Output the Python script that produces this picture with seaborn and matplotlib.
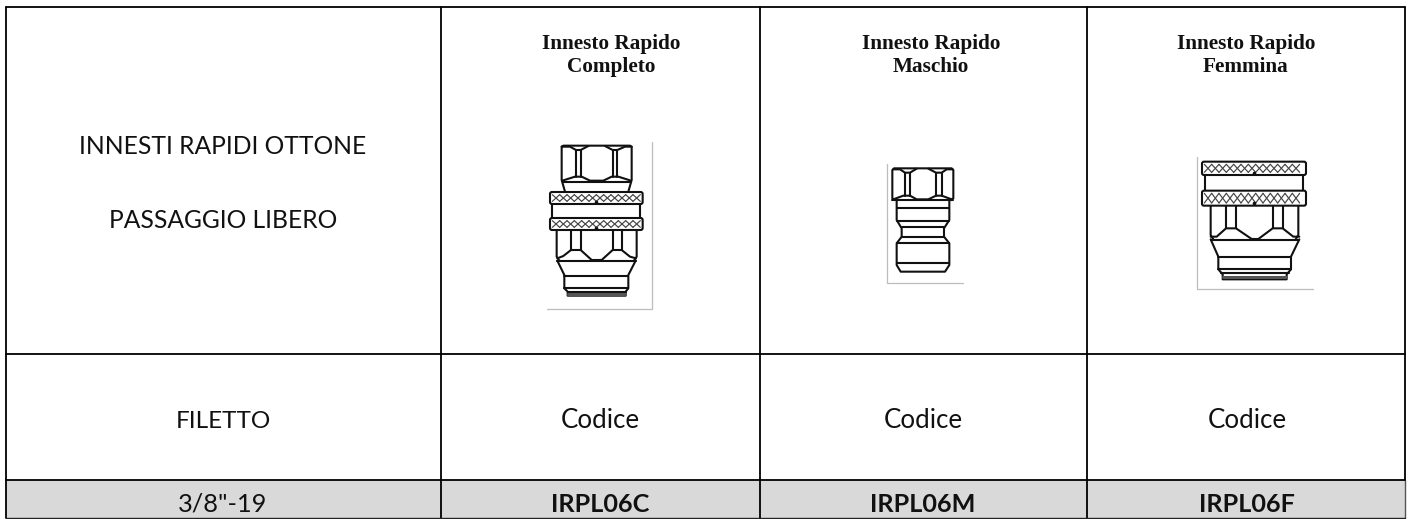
import numpy as np
import pandas as pd
import seaborn as sns
import matplotlib
matplotlib.use("Agg")
import matplotlib.pyplot as plt
from matplotlib.patches import FancyBboxPatch

sns.set_theme(style="white")
plt.rcParams['font.family'] = ['Lato', 'DejaVu Sans']

# table content
left_title = ["INNESTI RAPIDI OTTONE", "PASSAGGIO LIBERO"]
headers = ["Innesto Rapido\nCompleto", "Innesto Rapido\nMaschio", "Innesto Rapido\nFemmina"]
sub_left = "FILETTO"
sub_cols = ["Codice", "Codice", "Codice"]
row_left = '3/8"-19'
row_codes = ["IRPL06C", "IRPL06M", "IRPL06F"]

# table geometry
col_edges = [6, 441, 759.5, 1087, 1404.5]
row_edges = [6.5, 354, 480, 518]

W, H = 1410, 519
fig = plt.figure(figsize=(W / 100, H / 100), dpi=100, facecolor="white")
ax = fig.add_axes([0, 0, 1, 1])
ax.set_xlim(0, W)
ax.set_ylim(H, 0)
ax.axis("off")


def ln(xs, ys, lw=1.5, color="#111111"):
    df = pd.DataFrame({"x": xs, "y": ys})
    sns.lineplot(data=df, x="x", y="y", sort=False, estimator=None, ax=ax,
                 color=color, linewidth=lw, legend=False,
                 solid_joinstyle="round", solid_capstyle="round")


# grey row
ax.fill_between(col_edges[0::4], row_edges[2], row_edges[3], color="#d9d9d9", lw=0, zorder=0)
# grid
for x in col_edges[:-1]:
    ln([x, x], [row_edges[0], row_edges[3]], lw=1.3, color="#000000")
ln([col_edges[-1]] * 2, [row_edges[0], row_edges[2]], lw=1.3, color="#000000")
ln([col_edges[-1]] * 2, [row_edges[2], row_edges[3]], lw=1.0, color="#555555")
for y in row_edges[:-1]:
    ln([col_edges[0], col_edges[-1]], [y, y], lw=1.3, color="#000000")
ln([col_edges[0], col_edges[-1]], [row_edges[3]] * 2, lw=1.0, color="#222222")

TXT = "#111111"
ax.text(222.7, 154.3, left_title[0], ha="center", va="baseline", fontsize=17.7, color=TXT)
ax.text(223.3, 228.3, left_title[1], ha="center", va="baseline", fontsize=17.7, color=TXT)
ax.text(223, 428.3, sub_left, ha="center", va="baseline", fontsize=17.5, color=TXT)
ax.text(223, 511.5, row_left, ha="center", va="baseline", fontsize=18.3, color=TXT)

hdr_x = [611, 931, 1246]
cod_x = [600, 923, 1247]
for hx, cx, h, s, c in zip(hdr_x, cod_x, headers, sub_cols, row_codes):
    top, bottom = h.split("\n")
    ax.text(hx, 49.3, top, ha="center", va="baseline", fontsize=15.3,
            family="Liberation Serif", fontweight="bold", color=TXT)
    ax.text(hx, 71.7, bottom, ha="center", va="baseline", fontsize=15.3,
            family="Liberation Serif", fontweight="bold", color=TXT)
    ax.text(cx, 428.3, s, ha="center", va="baseline", fontsize=18.6, color=TXT)
    ax.text(cx, 511.5, c, ha="center", va="baseline", fontsize=18.2, fontweight="bold", color=TXT)


def part(ox, oy, polylines, frames=(), bands=(), thick=()):
    t = lambda p: ([ox + a / 3 for a, _ in p], [oy + b / 3 for _, b in p])
    for p in frames:
        ln(*t(p), lw=0.9, color="#bdbdbd")
    for p in polylines:
        ln(*t(p))
    for p in thick:
        ln(*t(p), lw=2.2, color="#555555")
    for x0, x1, y0, y1 in bands:
        ax.add_patch(FancyBboxPatch((ox + x0 / 3 + 1, oy + y0 / 3 + 1), (x1 - x0) / 3 - 2, (y1 - y0) / 3 - 2,
                                    boxstyle="round,pad=1,rounding_size=2", fc="white", ec="#111111",
                                    lw=1.5, zorder=3))
        step = 22
        for a in np.arange(x0 + 7, x1 - 7 - step + 1, step):
            for s0, s1 in ((0, 1), (1, 0)):
                ax.plot([ox + (a + s0 * step) / 3, ox + (a + s1 * step) / 3],
                        [oy + (y0 + 8) / 3, oy + (y1 - 8) / 3], color="#444444", lw=0.85, zorder=4)
        ax.plot([ox + (x0 + x1) / 6], [oy + (y1 - 7) / 3], "o", ms=1.6, color="#111111", zorder=4)


# fitting 1 : complete
part(520, 130,
     polylines=[
         [(135, 185), (125, 150), (125, 50), (130, 47), (330, 47), (335, 50), (335, 150), (325, 185)],
         [(168, 60), (168, 140)], [(182, 60), (182, 140)], [(278, 60), (278, 140)], [(292, 60), (292, 140)],
         [(125, 50), (150, 50), (168, 60), (182, 60), (205, 48)], [(255, 48), (278, 60), (292, 60), (315, 50), (335, 50)],
         [(127, 152), (165, 140), (185, 140), (210, 152), (250, 152), (275, 140), (295, 140), (333, 152)],
         [(130, 155), (330, 155)],
         [(97, 222), (97, 264)], [(360, 222), (360, 264)],
         [(110, 300), (110, 380), (118, 392)], [(350, 300), (350, 380), (342, 392)],
         [(153, 300), (153, 360)], [(182, 300), (182, 360)], [(278, 300), (278, 360)], [(305, 300), (305, 360)],
         [(112, 385), (130, 378), (153, 360), (182, 360), (215, 390), (245, 390), (278, 360), (305, 360), (330, 380), (348, 385)],
         [(112, 392), (348, 392)],
         [(112, 392), (133, 435), (133, 475), (143, 485), (143, 497), (317, 497), (317, 485), (325, 475), (325, 435), (347, 392)],
         [(133, 437), (325, 437)], [(133, 475), (325, 475)], [(143, 486), (317, 486)],
     ],
     frames=[[(397, 37), (397, 537), (82, 537)]],
     bands=[(90, 368, 186, 222), (90, 368, 264, 300)],
     thick=[[(145, 492), (315, 492)]])

# fitting 2 : male
part(860, 150,
     polylines=[
         [(105, 150), (97, 145), (97, 60), (102, 55), (275, 55), (280, 60), (280, 145), (272, 150)],
         [(135, 68), (135, 137)], [(150, 68), (150, 137)], [(228, 68), (228, 137)], [(245, 68), (245, 137)],
         [(100, 58), (120, 58), (135, 68), (150, 68), (170, 56)], [(205, 56), (228, 68), (245, 68), (260, 58), (278, 58)],
         [(100, 148), (130, 137), (150, 137), (170, 148), (205, 148), (228, 137), (245, 137), (275, 148)],
         [(97, 150), (280, 150)],
         [(110, 150), (110, 210), (125, 235), (125, 260), (110, 280), (110, 345), (122, 365), (255, 365), (268, 345),
          (268, 280), (252, 260), (252, 235), (268, 210), (268, 150)],
         [(110, 175), (268, 175)], [(110, 212), (268, 212)], [(125, 232), (252, 232)], [(125, 262), (252, 262)],
         [(110, 280), (268, 280)], [(110, 338), (268, 338)],
     ],
     frames=[[(82, 42), (82, 400), (308, 400)]])

# fitting 3 : female
part(1180, 140,
     polylines=[
         [(74, 105), (74, 152)], [(370, 105), (370, 152)],
         [(92, 197), (92, 285), (100, 298)], [(355, 197), (355, 285), (347, 298)],
         [(138, 197), (138, 265)], [(168, 197), (168, 265)], [(278, 197), (278, 265)], [(308, 197), (308, 265)],
         [(92, 290), (110, 290), (138, 265), (168, 265), (215, 297), (235, 297), (278, 265), (308, 265), (340, 290), (358, 290)],
         [(92, 299), (358, 299)],
         [(92, 298), (115, 350), (115, 388), (128, 403), (128, 418), (320, 418), (320, 403), (333, 388), (333, 350), (358, 298)],
         [(115, 352), (333, 352)], [(115, 388), (333, 388)], [(122, 400), (326, 400)],
     ],
     frames=[[(52, 50), (52, 448), (400, 448)]],
     bands=[(66, 378, 65, 105), (66, 378, 152, 197)],
     thick=[[(130, 410), (318, 410)]])

fig.savefig("out.png", dpi=100, facecolor="white")
